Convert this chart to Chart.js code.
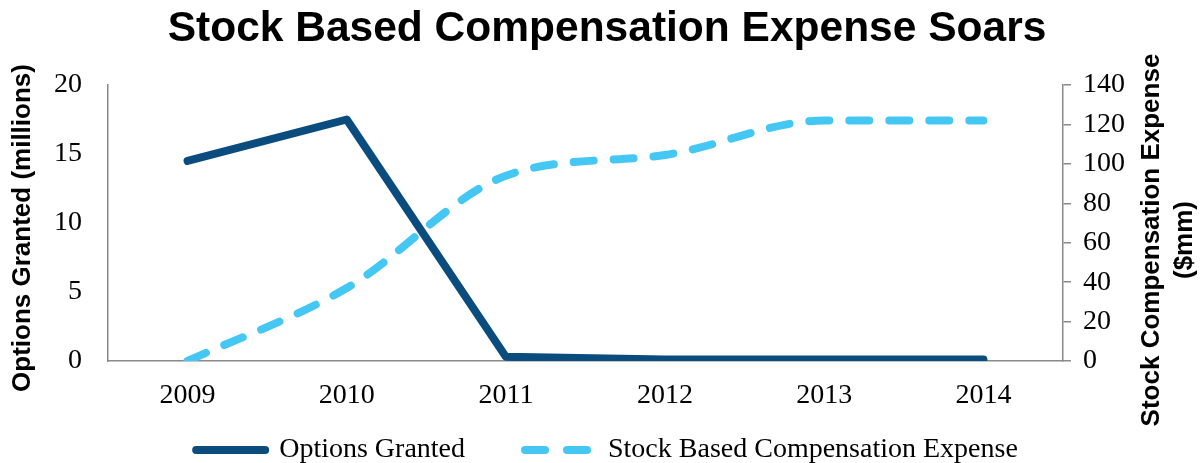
<!DOCTYPE html>
<html>
<head>
<meta charset="utf-8">
<script src="https://cdn.jsdelivr.net/npm/chart.js@4"></script>
<style>
  html, body { margin: 0; padding: 0; background: #fff; }
  #chart { display: block; }
</style>
</head>
<body>
<canvas id="chart" width="1202" height="463"></canvas>
<script>
const years = ["2009", "2010", "2011", "2012", "2013", "2014"];
const optionsGranted = [14.5, 17.5, 0.3, 0.1, 0.1, 0.1];
const stockComp = [0, 37, 94, 104.5, 122, 122];

const leftTitle = "Options Granted (millions)";
const rightTitle = ["Stock Compensation Expense", "($mm)"];

const navy = "#0A4C7E";
const sky = "#45C7F3";
const axisGray = "#8a8a8a";
const serif = "'Liberation Serif', 'Times New Roman', serif";
const sans = "'Liberation Sans', Arial, sans-serif";

Chart.defaults.color = "#000";

// vertical axis titles, both read bottom to top
const axisTitles = {
  id: "axisTitles",
  afterDraw(chart) {
    const ctx = chart.ctx;
    ctx.save();
    ctx.fillStyle = "#000";
    ctx.font = `bold 26px ${sans}`;
    ctx.textAlign = "center";
    ctx.textBaseline = "middle";

    ctx.save();
    ctx.translate(23, 228);
    ctx.rotate(-Math.PI / 2);
    ctx.fillText(leftTitle, 0, 0);
    ctx.restore();

    ctx.save();
    ctx.translate(1152, 240);
    ctx.rotate(-Math.PI / 2);
    ctx.fillText(rightTitle[0], 0, 0);
    ctx.fillText(rightTitle[1], 0, 33);
    ctx.restore();

    ctx.restore();
  }
};

// legend samples: point style gives no dash, so put it back
function legendLabels(chart) {
  const items = Chart.defaults.plugins.legend.labels.generateLabels(chart);
  return items.map((item, i) => ({
    ...item,
    lineCap: "round",
    lineDash: chart.data.datasets[i].borderDash ? [20, 22] : [],
  }));
}

new Chart(document.getElementById("chart"), {
  type: "line",
  data: {
    labels: years,
    datasets: [
      {
        label: "Options Granted",
        data: optionsGranted,
        yAxisID: "y",
        borderColor: navy,
        backgroundColor: navy,
        borderWidth: 8,
        borderCapStyle: "round",
        borderJoinStyle: "round",
        pointRadius: 0,
        tension: 0,
      },
      {
        label: "Stock Based Compensation Expense",
        data: stockComp,
        yAxisID: "y2",
        borderColor: sky,
        backgroundColor: sky,
        borderWidth: 8,
        borderDash: [20, 20],
        borderCapStyle: "round",
        borderJoinStyle: "round",
        pointRadius: 0,
        cubicInterpolationMode: "monotone",
      },
    ],
  },
  options: {
    responsive: false,
    devicePixelRatio: 1,
    animation: false,
    layout: { padding: { left: 12, right: 0, top: 0, bottom: 0 } },
    plugins: {
      title: {
        display: true,
        text: "Stock Based Compensation Expense Soars",
        color: "#000",
        font: { family: sans, size: 42.5, weight: "bold" },
        padding: { top: 4, bottom: 30 },
      },
      legend: {
        position: "bottom",
        maxHeight: 87,
        labels: {
          usePointStyle: true,
          pointStyle: "line",
          pointStyleWidth: 69,
          padding: 60,
          color: "#000",
          font: { family: serif, size: 28 },
          generateLabels: legendLabels,
        },
      },
      tooltip: { enabled: false },
    },
    scales: {
      x: {
        offset: true,
        grid: { display: false, drawTicks: false },
        border: { display: true, color: axisGray, width: 1.5 },
        // mirror keeps the labels from being clipped to the short axis box
        ticks: { mirror: true, padding: -51, font: { family: serif, size: 28 } },
        afterFit: (scale) => { scale.height = 15; },
      },
      y: {
        position: "left",
        min: 0,
        max: 20,
        grid: { display: false, drawTicks: false },
        border: { display: true, color: axisGray, width: 1.5 },
        ticks: { stepSize: 5, padding: 26, font: { family: serif, size: 28 } },
        afterFit: (scale) => { scale.width = 96; },
      },
      y2: {
        position: "right",
        min: 0,
        max: 140,
        grid: {
          display: true,
          drawOnChartArea: false,
          drawTicks: true,
          tickLength: 8,
          color: axisGray,
          lineWidth: 1.5,
        },
        border: { display: true, color: axisGray, width: 1.5 },
        ticks: { stepSize: 20, padding: 12, font: { family: serif, size: 28 } },
        afterFit: (scale) => { scale.width = 139; },
      },
    },
  },
  plugins: [axisTitles],
});
</script>
</body>
</html>
